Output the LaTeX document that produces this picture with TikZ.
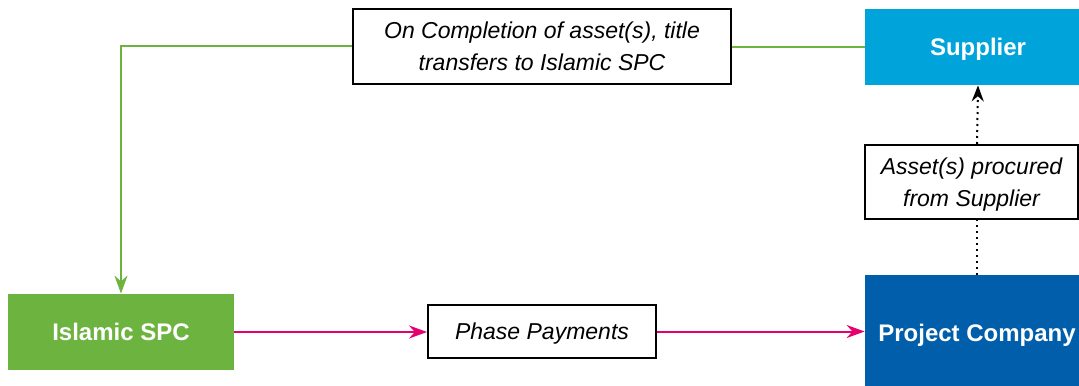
\documentclass[tikz,border=0pt]{standalone}
\usepackage{fontspec}
\setmainfont{Liberation Sans}
\usetikzlibrary{arrows.meta, positioning}

\definecolor{spcgreen}{RGB}{109,179,63}
\definecolor{supcyan}{RGB}{0,163,218}
\definecolor{pcblue}{RGB}{0,94,170}
\definecolor{paypink}{RGB}{228,0,110}

\begin{document}
\begin{tikzpicture}[x=0.5pt, y=-0.5pt,
  party/.style={inner sep=0pt, text depth=0pt, text=white, font=\fontsize{12}{14}\selectfont\bfseries},
  note/.style={draw, line width=1pt, fill=white, align=center, inner sep=0pt, text depth=0pt,
    font=\fontsize{11.5}{16}\selectfont\itshape},
  flow/.style={line width=1pt, -{Stealth[length=9pt,width=6.5pt]}}]

\useasboundingbox (0,0) rectangle (1079,385);

% the three parties
\node[party, fill=supcyan, minimum width=113pt, minimum height=38pt] (sup) at (978,47) {Supplier};
\node[party, fill=pcblue, minimum width=112pt, minimum height=57.5pt] (pc) at (977,332.5) {Project Company};
\node[party, fill=spcgreen, minimum width=113pt, minimum height=38pt] (spc) at (121,332) {Islamic SPC};

% labels on the flows
\node[note, minimum width=189pt, minimum height=37.5pt] (title) at (542,46.5)
  {On Completion of asset(s), title\\transfers to Islamic SPC};
\node[note, minimum width=114pt, minimum height=26.5pt] (pay) at (542,331.5) {Phase Payments};
\node[note, minimum width=106.5pt, minimum height=37pt] (asset) at (971.5,182)
  {Asset(s) procured\\from Supplier};

% title transfer
\draw[spcgreen, line width=1pt] (sup.west) -- (sup.west -| title.east);
\draw[flow, spcgreen] (title.west) -| (spc.north);

% payments
\draw[flow, paypink] (spc.east) -- (spc.east -| pay.west);
\draw[flow, paypink] (pay.east) -- (pay.east -| pc.west);

% procurement
\draw[dotted, line width=1pt] (pc.north) -- (pc.north |- asset.south);
\draw[dotted, line width=1pt, -{Stealth[length=8pt,width=6pt]}] (pc.north |- asset.north) -- (sup.south);
\end{tikzpicture}
\end{document}
